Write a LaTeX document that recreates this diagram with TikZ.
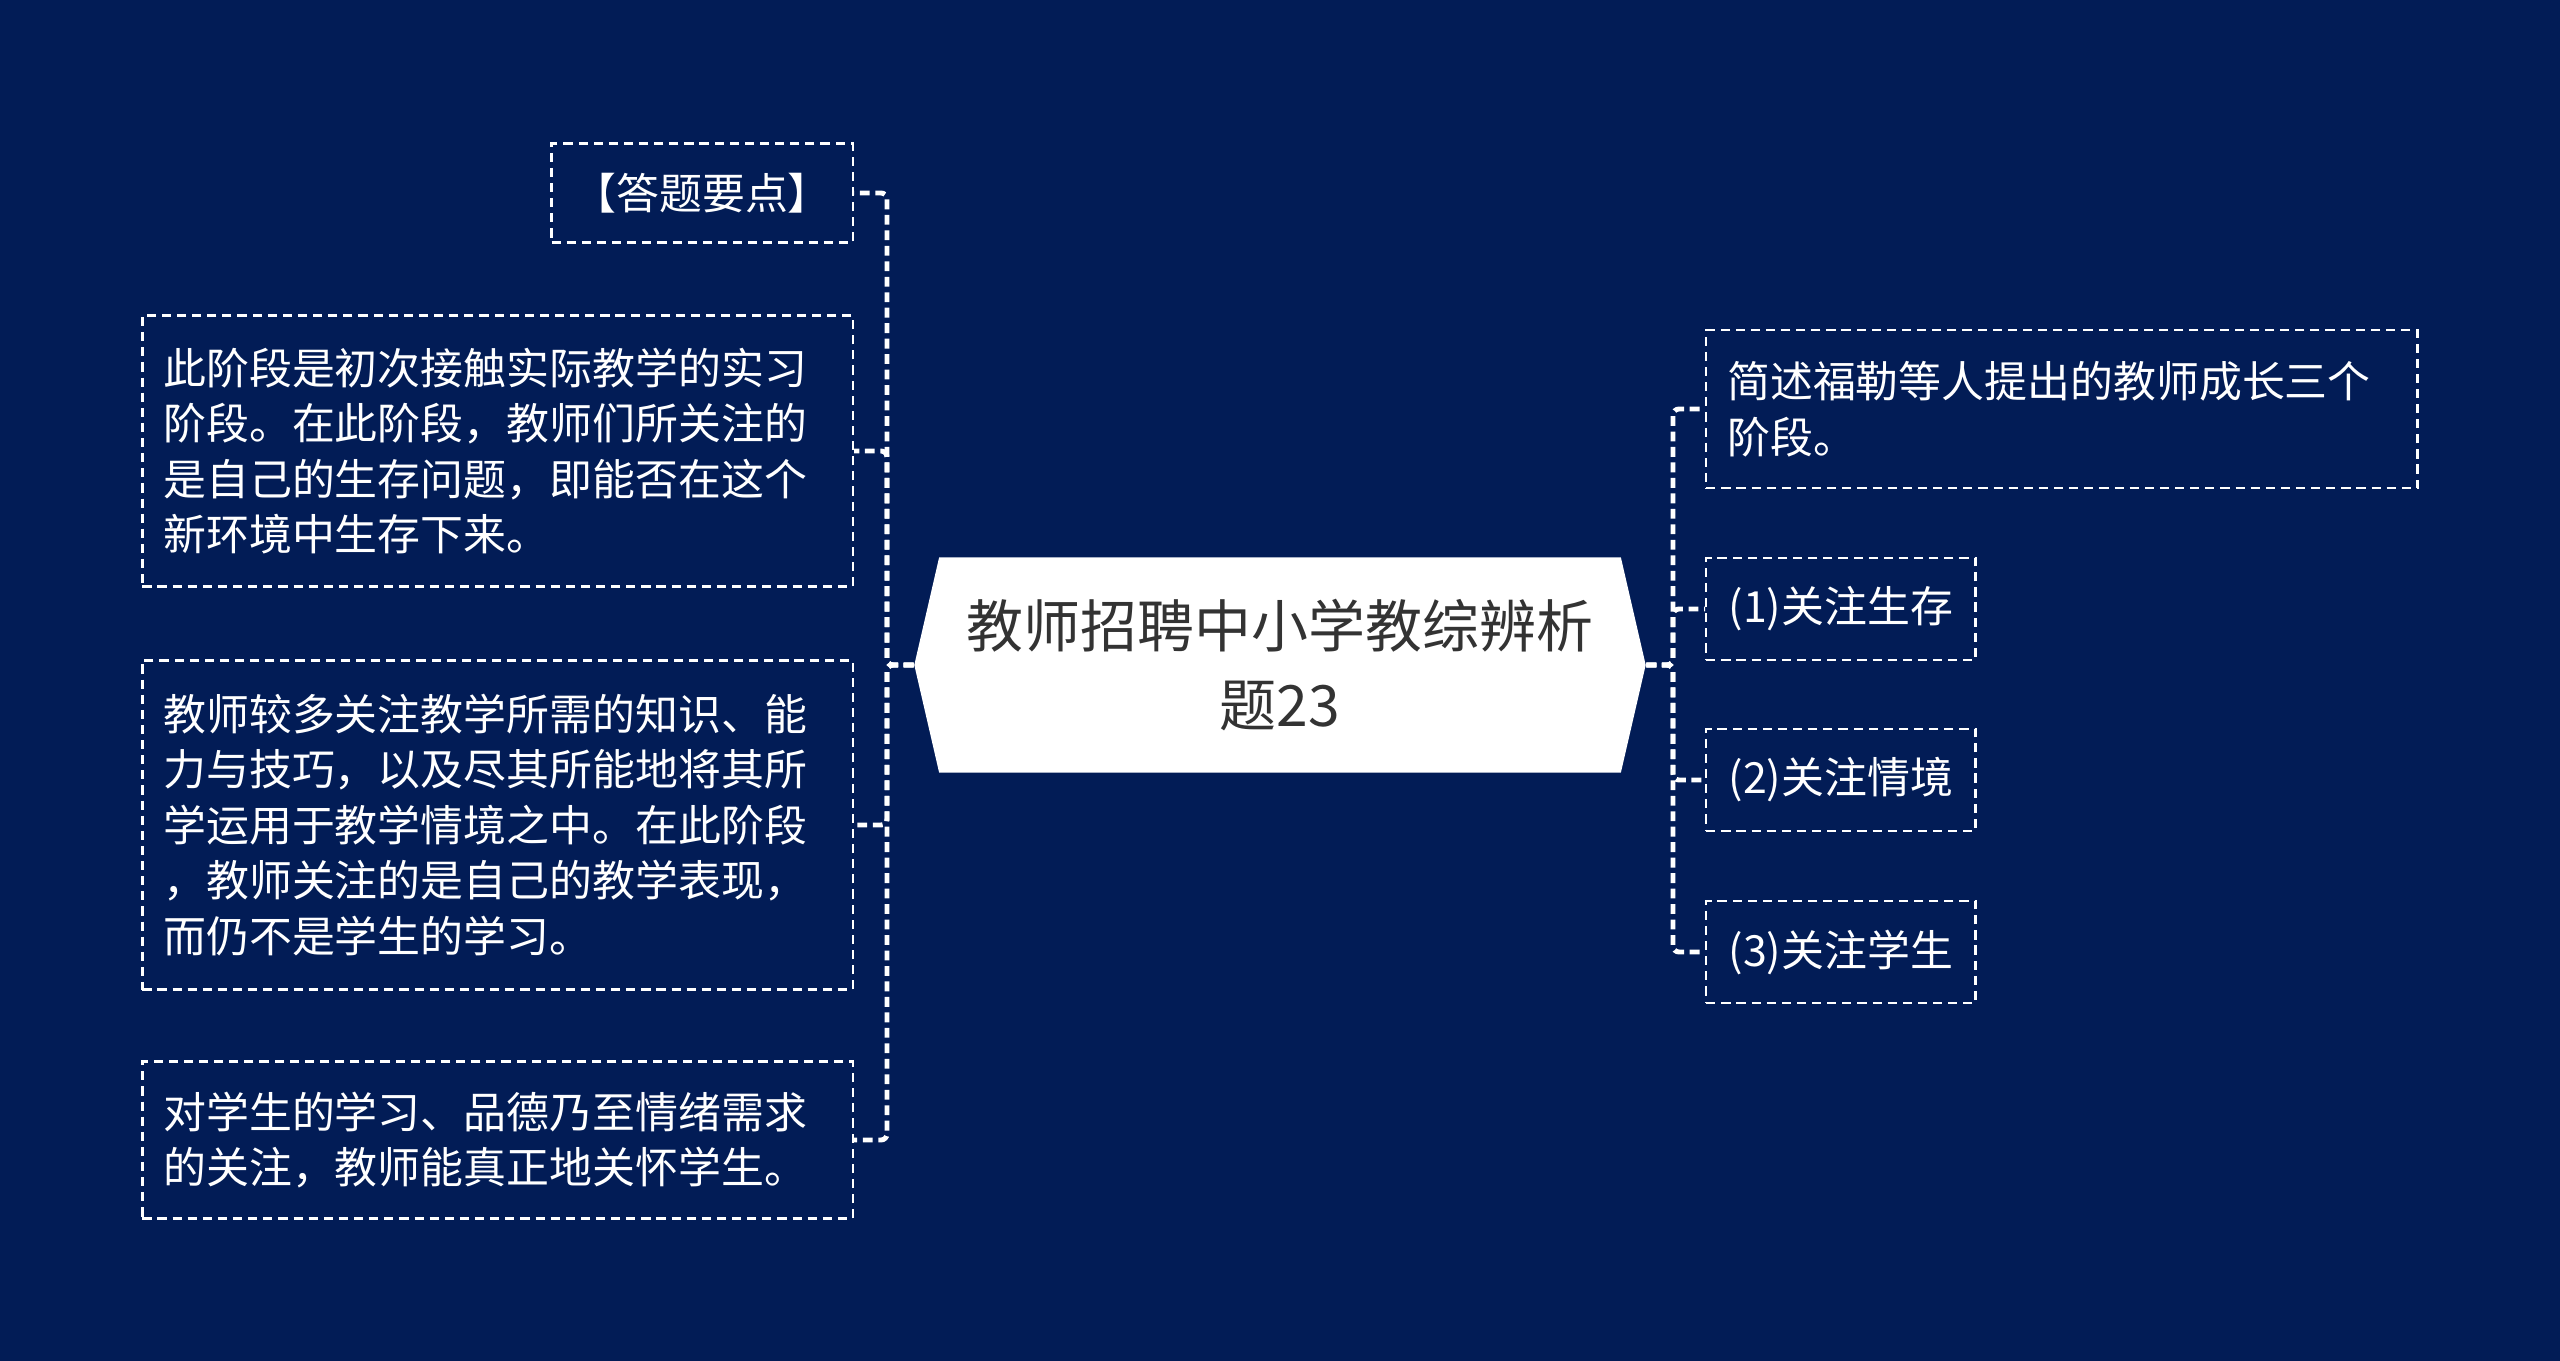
\documentclass[tikz,border=0pt]{standalone}
\usepackage{fontspec}
\setmainfont{Noto Sans CJK SC}
\usetikzlibrary{shapes.symbols}
\definecolor{navy}{HTML}{021C56}
\definecolor{ink}{HTML}{333333}
\tikzset{
    note/.style={draw=white, line width=0.7pt, dash pattern=on 2.6pt off 1.7pt,
        text=white, inner xsep=0.21cm, inner ysep=0pt,
        font=\fontsize{12.2pt}{15.8pt}\selectfont},
    link/.style={draw=white, line width=1.4pt, dash pattern=on 2.8pt off 1.6pt,
        rounded corners=0.06cm},
}
\begin{document}
\begin{tikzpicture}[x=0.01cm, y=-0.01cm]
        \fill[navy] (0,0) rectangle (2560,1361);
        % centre topic
        \node[signal, signal to=west and east, signal pointer angle=154, fill=white,
            minimum width=7.31cm, minimum height=2.15cm, inner sep=0pt, text=ink,
            align=center, font=\fontsize{16.2pt}{22.4pt}\selectfont]
            (hub) at (1280,665) {教师招聘中小学教综辨析\\题23};
        % left side
        \node[note, anchor=east, minimum width=3.01cm, minimum height=0.99cm] (tip) at (854,193) {【答题要点】};
        \node[note, anchor=east, text width=6.68cm, minimum height=2.71cm] (stage1) at (854,451)
            {此阶段是初次接触实际教学的实习\\阶段。在此阶段，教师们所关注的\\是自己的生存问题，即能否在这个\\新环境中生存下来。};
        \node[note, anchor=east, text width=6.68cm, minimum height=3.29cm] (stage2) at (854,825)
            {教师较多关注教学所需的知识、能\\力与技巧，以及尽其所能地将其所\\学运用于教学情境之中。在此阶段\\，教师关注的是自己的教学表现，\\而仍不是学生的学习。};
        \node[note, anchor=east, text width=6.68cm, minimum height=1.57cm] (stage3) at (854,1140)
            {对学生的学习、品德乃至情绪需求\\的关注，教师能真正地关怀学生。};
        % right side
        \node[note, anchor=west, text width=6.69cm, minimum height=1.58cm] (ask) at (1705,409)
            {简述福勒等人提出的教师成长三个\\阶段。};
        \foreach \nm/\y/\txt in {focA/609/(1)关注生存, focB/780/(2)关注情境, focC/952/(3)关注学生} {
            \node[note, anchor=west, minimum width=2.69cm, minimum height=1.02cm] (\nm) at (1705,\y) {\txt};
        }
        \coordinate (lknee) at (887,665);
        \coordinate (rknee) at (1673,665);
        \foreach \nm in {tip,stage1,stage2,stage3}
            \draw[link] (hub.west) -- (lknee) |- (\nm.east);
        \foreach \nm in {ask,focA,focB,focC}
            \draw[link] (hub.east) -- (rknee) |- (\nm.west);
    \end{tikzpicture}
\end{document}
